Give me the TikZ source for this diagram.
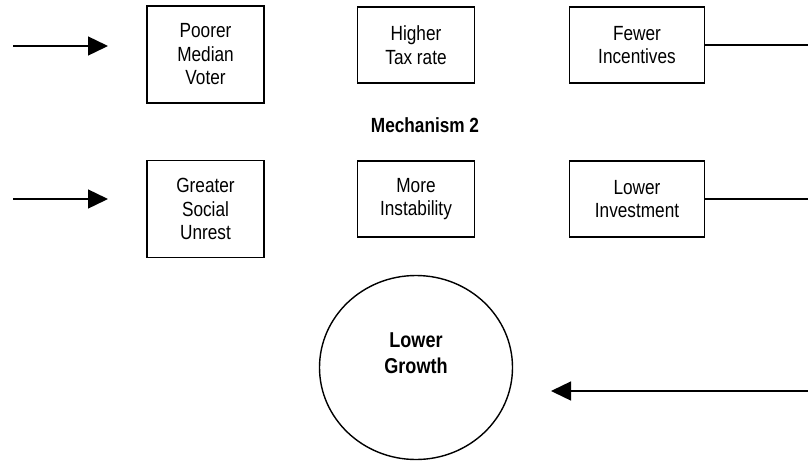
\documentclass[tikz,border=0pt]{standalone}
\usepackage{fontspec}
\setmainfont{Liberation Sans}[FakeStretch=0.84]
\usetikzlibrary{arrows.meta,shapes.geometric}
\begin{document}
\begin{tikzpicture}[x=1pt,y=-1pt,
  box/.style={draw, line width=1.5pt, align=center, inner sep=0pt,
    font=\fontsize{20.5}{23.5}\selectfont},
  wide/.style={minimum width=117pt},
  wider/.style={minimum width=135pt},
  tall/.style={minimum height=97pt},
  short/.style={minimum height=76pt},
  conn/.style={line width=1.4pt},
  arr/.style={line width=1.4pt, -{Triangle[length=20pt,width=19pt]}},
  lbl/.style={font=\bfseries\fontsize{20.5}{23.5}\selectfont, align=center, inner sep=0pt}]
\useasboundingbox (0,0) rectangle (808,461);
\node[box,wide,tall]  (pmv) at (205.5,54.5) {Poorer\\Median\\Voter};
\node[box,wide,short] (htr) at (416,45) {Higher\\Tax rate};
\node[box,wider,short] (fi) at (637,45) {Fewer\\Incentives};
\node[lbl] (mech) at (425,125) {Mechanism 2};
\node[box,wide,tall]  (gsu) at (205.5,209) {Greater\\Social\\Unrest};
\node[box,wide,short] (mi) at (416,199) {More\\Instability};
\node[box,wider,short] (li) at (637,199) {Lower\\Investment};
\node[draw, ellipse, line width=1.4pt, minimum width=193pt, minimum height=184pt, inner sep=0pt] (lg) at (416,367.5) {};
\node[lbl, font=\bfseries\fontsize{21.5}{26}\selectfont] (lgt) at (416,353) {Lower\\Growth};
\coordinate (a1s) at (13,46);
\coordinate (a1e) at (108,46);
\coordinate (a2s) at (13,199);
\coordinate (a2e) at (108,199);
\coordinate (o1) at (808,45);
\coordinate (o2) at (808,199);
\coordinate (b1) at (808,391);
\coordinate (b2) at (551,391);
\draw[arr] (a1s) -- (a1e);
\draw[arr] (a2s) -- (a2e);
\draw[conn] (fi.east) -- (o1);
\draw[conn] (li.east) -- (o2);
\draw[arr] (b1) -- (b2);
\end{tikzpicture}
\end{document}
